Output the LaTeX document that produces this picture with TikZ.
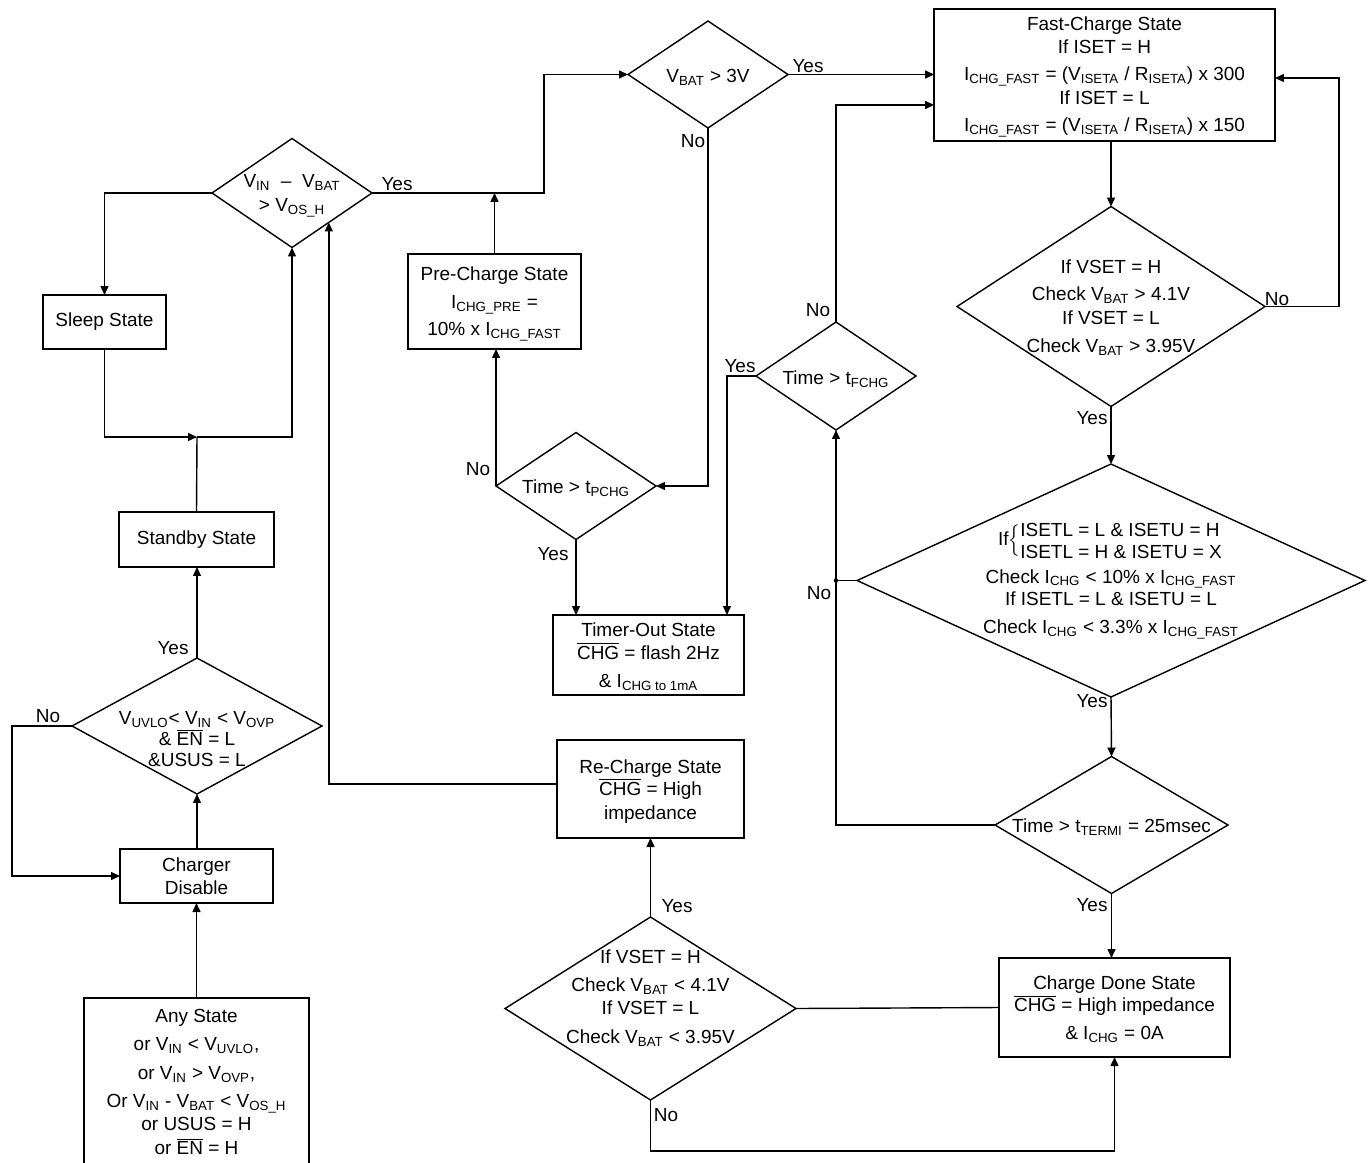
\documentclass[tikz,border=0pt]{standalone}
\usepackage{fontspec}
\setmainfont{Liberation Sans}
\usetikzlibrary{shapes.geometric,arrows.meta,calc}
\newcommand{\sbs}[1]{\textsubscript{#1}}
\newcommand{\ovl}[1]{$\overline{\mbox{#1}}$}
\newcommand{\chartfont}{\fontsize{10.8}{13}\selectfont\lineskiplimit=-20pt\relax}
\begin{document}
\begin{tikzpicture}[x=0.02cm,y=-0.02cm,
  every node/.style={font=\chartfont, inner sep=0pt, outer sep=0pt},
  box/.style={draw, line width=0.8pt, rectangle, align=center},
  dia/.style={draw, line width=0.8pt, diamond},
  txt/.style={align=center},
  conn/.style={line width=0.8pt},
  arr/.style={conn, -{Triangle[length=0.18cm,width=0.16cm]}}]
\useasboundingbox (0,0) rectangle (1371,1162);
\clip (0,0) rectangle (1371,1162);

% ---------- boxes ----------
\node[box, minimum width=6.82cm, minimum height=2.64cm] (fc) at (1104.5,75) {};
\node[txt] (fct) at (1104.5,77)
 {Fast-Charge State\\
  If ISET = H\\[2.3pt]
  I\sbs{CHG\_FAST} = (V\sbs{ISETA} / R\sbs{ISETA}) x 300\\[1pt]
  If ISET = L\\[2.3pt]
  I\sbs{CHG\_FAST} = (V\sbs{ISETA} / R\sbs{ISETA}) x 150};
\node[box, minimum width=2.46cm, minimum height=1.08cm] (sleep) at (104.5,322) {Sleep State};
\node[box, minimum width=3.46cm, minimum height=1.9cm] (pre) at (494.5,301.5) {};
\node[txt] (pret) at (494.5,304)
 {Pre-Charge State\\[3pt] I\sbs{CHG\_PRE} =\\[2.5pt] 10\% x I\sbs{CHG\_FAST}};
\node[box, minimum width=3.1cm, minimum height=1.1cm] (stby) at (196.5,539.5) {Standby State};
\node[box, minimum width=3.06cm, minimum height=1.08cm] (cdis) at (196.5,876) {Charger\\Disable};
\node[box, minimum width=4.5cm, minimum height=3.36cm] (any) at (196.5,1082)
 {Any State\\[3pt]
  or V\sbs{IN} < V\sbs{UVLO},\\[3.5pt]
  or V\sbs{IN} > V\sbs{OVP},\\[3pt]
  Or V\sbs{IN} - V\sbs{BAT} < V\sbs{OS\_H}\\
  or USUS = H\\[0.6pt]
  or \ovl{EN} = H};
\node[box, minimum width=3.82cm, minimum height=1.6cm] (tout) at (648.5,655) {};
\node[txt] (toutt) at (648.5,656.5)
 {Timer-Out State\\ \ovl{CHG} = flash 2Hz\\[2.9pt] \& I\sbs{CHG to 1mA}};
\node[box, minimum width=3.74cm, minimum height=1.96cm] (rc) at (650.5,789) {};
\node[txt] (rct) at (650.5,791.5)
 {Re-Charge State\\[-0.5pt] \ovl{CHG} = High\\[0.6pt] impedance};
\node[box, minimum width=4.62cm, minimum height=1.98cm] (done) at (1114.5,1007.5) {};
\node[txt] (donet) at (1114.5,1009.5)
 {Charge Done State\\[-0.5pt] \ovl{CHG} = High impedance\\[2.9pt] \& I\sbs{CHG} = 0A};

% ---------- diamonds ----------
\node[dia, minimum width=3.2cm, minimum height=2.18cm] (d1) at (292,193) {};
\node[dia, minimum width=5.0cm, minimum height=2.72cm] (d2) at (197,726) {};
\node[dia, minimum width=3.2cm, minimum height=2.14cm] (d3) at (708,74.5) {};
\node[dia, minimum width=3.2cm, minimum height=2.14cm] (d4) at (576,486) {};
\node[dia, minimum width=3.2cm, minimum height=2.16cm] (d6) at (836,376) {};
\node[dia, minimum width=6.16cm, minimum height=4.0cm] (dv) at (1111,306.5) {};
\node[dia, minimum width=10.16cm, minimum height=4.66cm] (d5) at (1111,580.5) {};
\node[dia, minimum width=4.66cm, minimum height=2.74cm] (d8) at (1111.5,825) {};
\node[dia, minimum width=5.82cm, minimum height=3.66cm] (d7) at (650.5,1008.5) {};

\node[txt] (d1t) at (292,196) {V\sbs{IN} \ – \ V\sbs{BAT}\\[0.6pt] > V\sbs{OS\_H}};
\node[txt] (d2t) at (197,739) {V\sbs{UVLO}< V\sbs{IN} < V\sbs{OVP}\\[-1pt] \& \ovl{EN} = L\\[-1.5pt] \&USUS = L};
\node[txt] (d3t) at (708,77) {V\sbs{BAT} > 3V};
\node[txt] (d4t) at (576,488) {Time > t\sbs{PCHG}};
\node[txt] (d6t) at (836,379) {Time > t\sbs{FCHG}};
\node[txt] (dvt) at (1111,307.5) {If VSET = H\\[2.3pt] Check V\sbs{BAT} > 4.1V\\[0.6pt] If VSET = L\\[2.9pt] Check V\sbs{BAT} > 3.95V};
\node[txt] (d5b) at (1111,541)
 {If$\left\{\vcenter{\baselineskip=12pt\lineskiplimit=-20pt
   \hbox{ISETL = L \& ISETU = H}\hbox{ISETL = H \& ISETU = X}}\right.$};
\node[txt] (d5t) at (1111,604)
 {Check I\sbs{CHG} < 10\% x I\sbs{CHG\_FAST}\\[0pt]
  If ISETL = L \& ISETU = L\\[2.5pt]
  Check I\sbs{CHG} < 3.3\% x I\sbs{CHG\_FAST}};
\node[txt] (d8t) at (1111.5,827) {Time > t\sbs{TERMI} = 25msec};
\node[txt] (d7t) at (650.5,998) {If VSET = H\\[2.9pt] Check V\sbs{BAT} < 4.1V\\[0pt] If VSET = L\\[3.4pt] Check V\sbs{BAT} < 3.95V};

% ---------- labels ----------
\node (y1) at (397,184) {Yes};
\node (y3) at (808,66) {Yes};
\node (n3) at (693,141) {No};
\node (n6) at (818,310) {No};
\node (y6) at (740,366) {Yes};
\node (n4) at (478,469) {No};
\node (y4) at (553,554) {Yes};
\node (nv) at (1277,299) {No};
\node (yv) at (1092,418) {Yes};
\node (n5) at (819,593) {No};
\node (y5) at (1092,701) {Yes};
\node (y8) at (1092,905) {Yes};
\node (y2) at (173,648) {Yes};
\node (n2) at (48,716) {No};
\node (y7) at (677,906) {Yes};
\node (n7) at (666,1115) {No};

% ---------- connectors ----------
\coordinate (j1) at (197,437);
\draw[arr] (d1.west) -| (sleep.north);
\draw[arr] (sleep.south) |- (j1);
\draw[conn] (stby.north) -- (j1);
\draw[arr] (j1) -| (d1.south);
\draw[arr] (d2.north) -- (d2.north |- stby.south);
\draw[arr] (d2.west) -- ++(-60,0) |- (cdis.west);
\draw[arr] (d2.south |- cdis.north) -- (d2.south);
\draw[arr] (any.north) -- (cdis.south);

\coordinate (ja) at (544,193);
\draw[arr] (d1.east) -- (ja) |- (d3.west);
\draw[arr] (pre.north) -- (pre.north |- d1.east);
\draw[arr] (d4.west) -- (d4.west |- pre.south);
\draw[arr] (d3.south) |- (d4.east);
\draw[arr] (d3.east) -- (d3.east -| fc.west);
\coordinate (fcin) at ($(fc.west)+(0,30)$);
\draw[arr] (d6.north) |- (fcin);
\coordinate (tin) at ($(tout.north east)+(-17,0)$);
\draw[arr] (d6.west) -| (tin);
\draw[arr] (d4.south) -- (d4.south |- tout.north);

\draw[arr] (dv.north |- fc.south) -- (dv.north);
\coordinate (fcr) at ($(fc.east)+(0,3)$);
\draw[arr] (dv.east) -- ++(74,0) |- (fcr);
\draw[arr] (dv.south) -- (d5.north);
\coordinate (jn) at (836,580.5);
\draw[conn] (d5.west) -- (jn);
\fill (jn) circle[radius=0.045cm];
\draw[arr] (d8.west) -| (d6.south);
\draw[arr] (d5.south) -- (d8.north);
\draw[arr] (d8.south) -- (d8.south |- done.north);
\draw[conn] (done.west) -- (d7.east);
\draw[arr] (d7.south) -- ++(0,51) -| (done.south);
\draw[arr] (d7.north) -- (rc.south);
\coordinate (d1in) at ($(d1.south)!0.46!(d1.east)$);
\coordinate (rcout) at ($(rc.west)+(0,-5)$);
\draw[arr] (rcout) -| (d1in);
\end{tikzpicture}
\end{document}
